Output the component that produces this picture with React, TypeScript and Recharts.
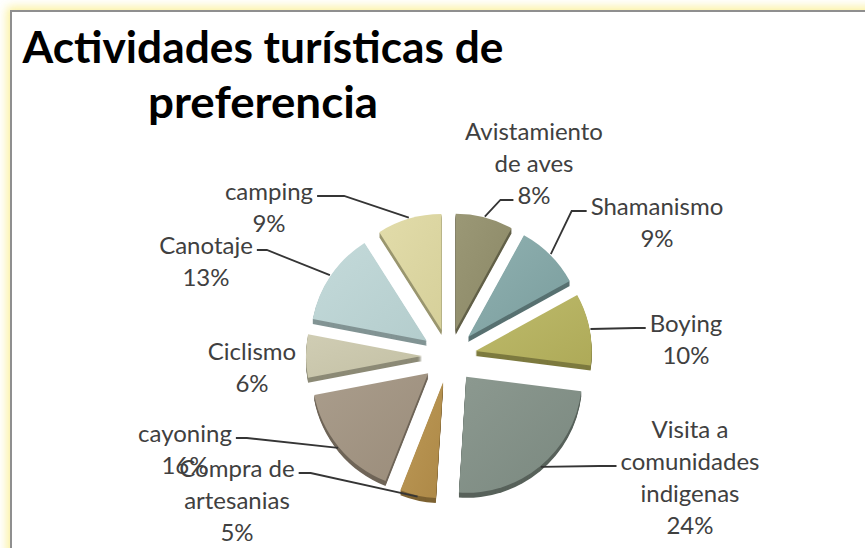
import React from 'react';
import { PieChart, Pie, Sector } from 'recharts';

// ---- data ----
const CATEGORIES = [
  'Avistamiento\nde aves',
  'Shamanismo',
  'Boying',
  'Visita a\ncomunidades\nindigenas',
  'Compra de\nartesanias',
  'cayoning',
  'Ciclismo',
  'Canotaje',
  'camping',
];
const VALUES = [8, 9, 10, 24, 5, 16, 6, 13, 9];
const TITLE_LINES = ['Actividades turísticas de', 'preferencia'];

// ---- styles ----
const COLORS = ['#8a8765', '#7a9d9d', '#aeaa58', '#7a887f', '#ad8846', '#9a8c7a', '#c3c0a4', '#b4cdcd', '#d6d09a'];
const HIGHLIGHTS = ['#9b9876', '#90b1b1', '#bebb6c', '#8c9990', '#bd9a58', '#aa9d8c', '#d0cdb4', '#c4dada', '#e2dcaa'];

// label layout: block centre offset from pie centre, leader attachment line, side, stub length
const LABEL_LAYOUT = [
  { dx: 85, dy: -193, line: 2, side: 'left', stub: 13 },
  { dx: 208, dy: -134, line: 0, side: 'left', stub: 15 },
  { dx: 237, dy: -17, line: 0, side: 'left', stub: 10 },
  { dx: 241, dy: 121, line: 1, side: 'left', stub: 17 },
  { dx: -212, dy: 144, line: 0, side: 'right', stub: 12 },
  { dx: -264, dy: 93, line: 0, side: 'right', stub: 11 },
  { dx: -197, dy: 11, line: -1, side: 'right', stub: 0 },
  { dx: -243, dy: -95, line: 0, side: 'right', stub: 10 },
  { dx: -180, dy: -149, line: 0, side: 'right', stub: 27 },
];

const data = CATEGORIES.map((name, i) => ({ name, value: VALUES[i], fill: COLORS[i] }));

const EXPLODE = 27;
const DEPTH = 5;
const RAD = Math.PI / 180;
const LABEL_FONT_SIZE = 24;
const LINE_H = 32;
const LABEL_FONT = `${LABEL_FONT_SIZE}px Lato`;

let measureCtx: CanvasRenderingContext2D | null = null;
function measure(text: string, font: string): number {
  if (!measureCtx) measureCtx = document.createElement('canvas').getContext('2d');
  if (!measureCtx) return text.length * 11;
  measureCtx.font = font;
  return measureCtx.measureText(text).width;
}

function darken(hex: string, f: number): string {
  const n = parseInt(hex.slice(1), 16);
  const r = Math.round(((n >> 16) & 255) * f);
  const g = Math.round(((n >> 8) & 255) * f);
  const b = Math.round((n & 255) * f);
  return `rgb(${r},${g},${b})`;
}

function idxOf(props: any): number {
  const nm = props.name ?? props.payload?.name;
  const i = CATEGORIES.indexOf(nm);
  return i >= 0 ? i : props.index ?? 0;
}

function renderSlice(props: any) {
  const { cx, cy, outerRadius, startAngle, endAngle, midAngle } = props;
  const i = idxOf(props);
  const ox = cx + EXPLODE * Math.cos(-midAngle * RAD);
  const oy = cy + EXPLODE * Math.sin(-midAngle * RAD);
  const base = COLORS[i];
  const side = darken(base, 0.72);
  const layers = [];
  for (let d = DEPTH; d >= 1; d--) {
    layers.push(
      <Sector
        key={d}
        cx={ox}
        cy={oy + d}
        innerRadius={0}
        outerRadius={outerRadius}
        startAngle={startAngle}
        endAngle={endAngle}
        fill={side}
        stroke="none"
      />
    );
  }
  return (
    <g>
      <defs>
        <linearGradient id={`slice-grad-${i}`} x1="0" y1="0" x2="1" y2="1">
          <stop offset="0" stopColor={HIGHLIGHTS[i]} />
          <stop offset="1" stopColor={base} />
        </linearGradient>
      </defs>
      {layers}
      <Sector
        cx={ox}
        cy={oy}
        innerRadius={0}
        outerRadius={outerRadius}
        startAngle={startAngle}
        endAngle={endAngle}
        fill={`url(#slice-grad-${i})`}
        stroke="none"
      />
    </g>
  );
}

function renderLabel(props: any) {
  const { cx, cy, midAngle, outerRadius, percent } = props;
  const i = idxOf(props);
  const lay = LABEL_LAYOUT[i];
  const lines = [...CATEGORIES[i].split('\n'), `${Math.round(percent * 100)}%`];
  const bx = cx + lay.dx;
  const by = cy + lay.dy;
  const top = by - ((lines.length - 1) * LINE_H) / 2;
  let leader = null;
  if (lay.line >= 0) {
    const ly = top + lay.line * LINE_H + 5;
    const w = measure(lines[lay.line], LABEL_FONT);
    const dir = lay.side === 'left' ? -1 : 1;
    const sx = bx + dir * (w / 2 + 4);
    const ex = sx + dir * lay.stub;
    const ox = cx + EXPLODE * Math.cos(-midAngle * RAD);
    const oy = cy + EXPLODE * Math.sin(-midAngle * RAD);
    const ax = ox + (outerRadius + 1) * Math.cos(-midAngle * RAD);
    const ay = oy + (outerRadius + 1) * Math.sin(-midAngle * RAD);
    leader = (
      <polyline
        points={`${sx},${ly} ${ex},${ly} ${ax},${ay}`}
        fill="none"
        stroke="#353535"
        strokeWidth={1.8}
      />
    );
  }
  return (
    <g key={`lbl-${i}`}>
      {leader}
      {lines.map((t, k) => (
        <text
          key={k}
          x={bx}
          y={top + k * LINE_H + LABEL_FONT_SIZE * 0.36}
          textAnchor="middle"
          fontFamily="Lato"
          fontSize={LABEL_FONT_SIZE}
          fill="#404040"
        >
          {t}
        </text>
      ))}
    </g>
  );
}

export default function App() {
  return (
    <div
      style={{
        position: 'absolute',
        left: 0,
        top: 0,
        width: 865,
        height: 548,
        overflow: 'hidden',
        background: '#ffffff',
      }}
    >
      <div
        style={{
          position: 'absolute',
          left: 10,
          top: 10,
          width: 950,
          height: 650,
          borderLeft: '2px solid #8f8f8f',
          borderTop: '2px solid #8f8f8f',
          boxShadow: '0 0 9px 3px rgba(250, 238, 140, 0.85)',
          background: '#ffffff',
        }}
      />
      <div style={{ position: 'absolute', left: 0, top: 0 }}>
        <PieChart width={865} height={548}>
          <Pie
            data={data}
            dataKey="value"
            nameKey="name"
            cx={444}
            cy={351}
            outerRadius={116}
            startAngle={90}
            endAngle={-270}
            stroke="none"
            isAnimationActive={false}
            shape={renderSlice}
            label={renderLabel}
            labelLine={false}
          />
        </PieChart>
      </div>
      <svg
        width={865}
        height={548}
        style={{ position: 'absolute', left: 0, top: 0, pointerEvents: 'none' }}
      >
        <text
          x={263}
          y={63}
          textAnchor="middle"
          fontFamily="Lato"
          fontWeight="bold"
          fontSize={44}
          fill="#000"
          textLength={481}
          lengthAdjust="spacingAndGlyphs"
        >
          {TITLE_LINES[0]}
        </text>
        <text
          x={263}
          y={118}
          textAnchor="middle"
          fontFamily="Lato"
          fontWeight="bold"
          fontSize={44}
          fill="#000"
          textLength={230}
          lengthAdjust="spacingAndGlyphs"
        >
          {TITLE_LINES[1]}
        </text>
      </svg>
    </div>
  );
}
